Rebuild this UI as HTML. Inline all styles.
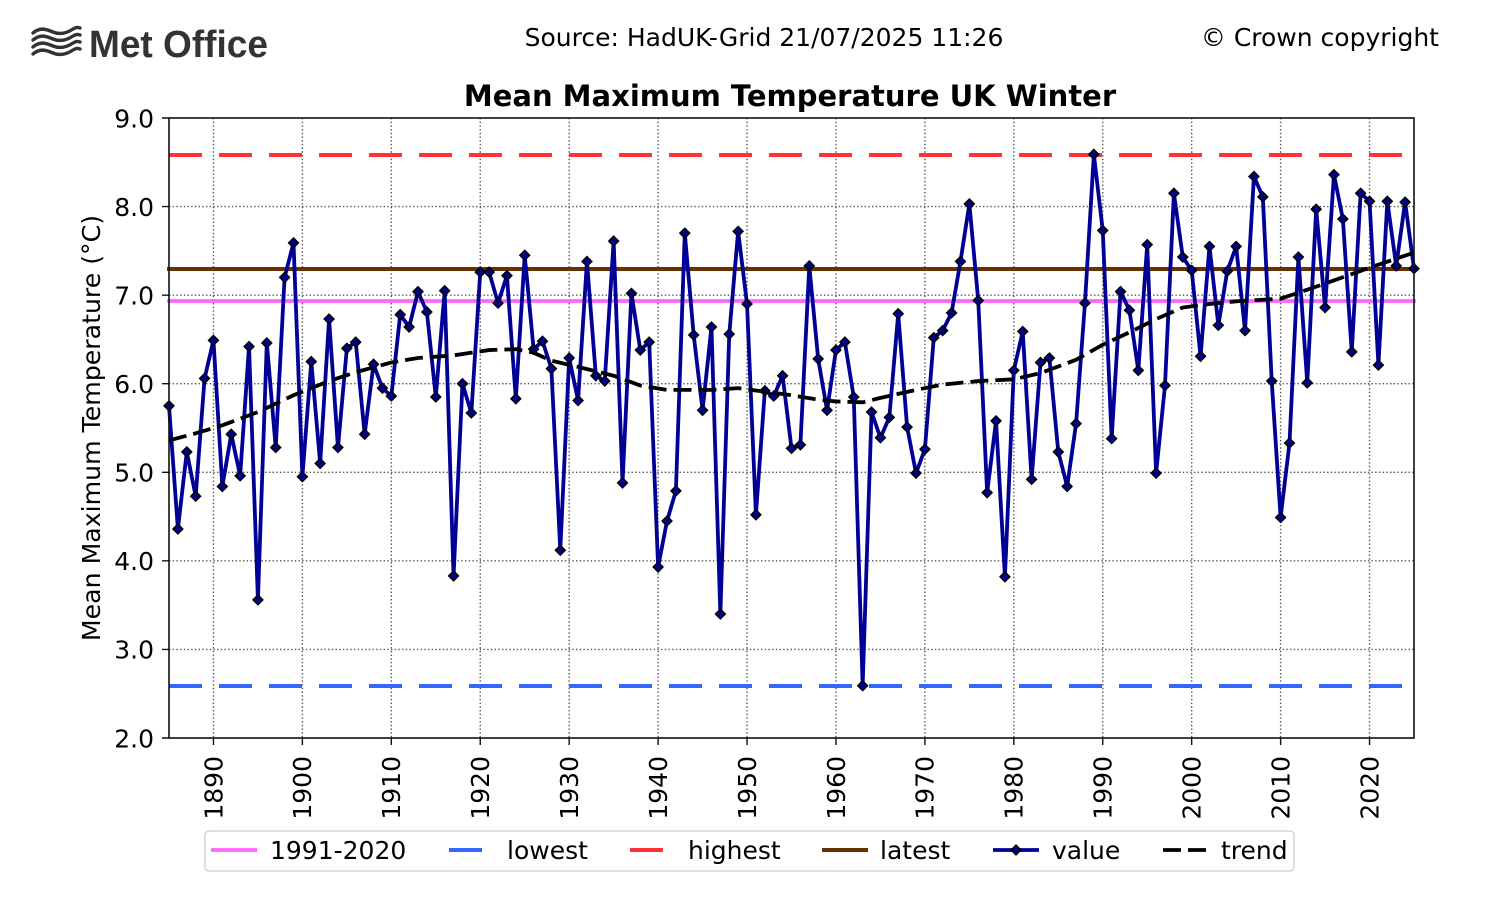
<!DOCTYPE html>
<html>
<head>
<meta charset="utf-8">
<style>
html,body{margin:0;padding:0;background:#fff;}
svg{display:block;}
</style>
</head>
<body>
<svg width="1500" height="900" viewBox="0 0 1500 900" xmlns="http://www.w3.org/2000/svg" font-family="'DejaVu Sans', 'Liberation Sans', sans-serif">
<defs>
  <path id="d" transform="scale(0.112450,-0.0112903)" d="M0,-4.8L4.8,0L0,4.8L-4.8,0Z" fill="#000096" stroke="#000" stroke-width="1.6"/>
</defs>
<rect width="1500" height="900" fill="#fff"/>

<!-- Logo -->
<g fill="none" stroke="#333" stroke-width="3.4" stroke-linecap="round">
  <path d="M33,33 C40,27 46,29 53,32 C60,35 67,33 73,29 C76,27 78,27 80,28"/>
  <path d="M33,40 C40,34 46,36 53,39 C60,42 67,40 73,36 C76,34 78,34 80,35"/>
  <path d="M33,47 C40,41 46,43 53,46 C60,49 67,47 73,43 C76,41 78,41 80,42"/>
  <path d="M33,54 C40,48 46,50 53,53 C60,56 67,54 73,50 C76,48 78,48 80,49"/>
</g>
<text x="89" y="57" font-family="'Liberation Sans', sans-serif" font-weight="bold" font-size="38" fill="#333" textLength="179" lengthAdjust="spacingAndGlyphs">Met Office</text>

<!-- Header -->
<text x="764" y="46" text-anchor="middle" font-size="25" fill="#000">Source: HadUK-Grid 21/07/2025 11:26</text>
<text x="1439" y="46" text-anchor="end" font-size="25" fill="#000">© Crown copyright</text>

<!-- Title -->
<text x="790" y="106" text-anchor="middle" font-size="29" font-weight="bold" fill="#000">Mean Maximum Temperature UK Winter</text>

<!-- Grid -->
<path fill="none" stroke="#555" stroke-width="1.4" stroke-dasharray="1.4,2.3"
 d="M213.46,118V738 M302.39,118V738 M391.32,118V738 M480.25,118V738 M569.18,118V738 M658.11,118V738 M747.04,118V738 M835.96,118V738 M924.89,118V738 M1013.82,118V738 M1102.75,118V738 M1191.68,118V738 M1280.61,118V738 M1369.54,118V738
    M169,649.43H1414 M169,560.86H1414 M169,472.29H1414 M169,383.71H1414 M169,295.14H1414 M169,206.57H1414"/>

<!-- Reference lines -->
<line x1="169" y1="301" x2="1414" y2="301" stroke="#ff66ff" stroke-width="3.7" stroke-linecap="square"/>
<line x1="169" y1="686" x2="1414" y2="686" stroke="#3366ff" stroke-width="4" stroke-dasharray="33,17"/>
<line x1="169" y1="155" x2="1414" y2="155" stroke="#ff3333" stroke-width="4" stroke-dasharray="33,17"/>
<line x1="169" y1="269" x2="1414" y2="269" stroke="#663300" stroke-width="4" stroke-linecap="square"/>

<!-- Value series (data coordinates) -->
<g transform="translate(169,915.143) scale(8.89286,-88.5714)">
<polyline fill="none" stroke="#000096" stroke-width="3.8" stroke-linejoin="round" vector-effect="non-scaling-stroke"
 points="0,5.75 1,4.36 2,5.23 3,4.73 4,6.06 5,6.49 6,4.84 7,5.43 8,4.96 9,6.42 10,3.56 11,6.46 12,5.28 13,7.2 14,7.59 15,4.95 16,6.25 17,5.1 18,6.73 19,5.28 20,6.4 21,6.47 22,5.43 23,6.22 24,5.95 25,5.86 26,6.78 27,6.64 28,7.04 29,6.81 30,5.85 31,7.05 32,3.83 33,6 34,5.67 35,7.26 36,7.26 37,6.91 38,7.22 39,5.83 40,7.45 41,6.39 42,6.48 43,6.17 44,4.12 45,6.29 46,5.81 47,7.38 48,6.09 49,6.03 50,7.61 51,4.88 52,7.02 53,6.38 54,6.47 55,3.93 56,4.45 57,4.79 58,7.7 59,6.55 60,5.7 61,6.64 62,3.4 63,6.56 64,7.72 65,6.9 66,4.52 67,5.92 68,5.86 69,6.09 70,5.27 71,5.31 72,7.33 73,6.28 74,5.7 75,6.38 76,6.47 77,5.85 78,2.59 79,5.68 80,5.39 81,5.62 82,6.79 83,5.51 84,4.99 85,5.26 86,6.52 87,6.6 88,6.8 89,7.38 90,8.03 91,6.94 92,4.77 93,5.58 94,3.82 95,6.15 96,6.59 97,4.92 98,6.24 99,6.29 100,5.23 101,4.84 102,5.55 103,6.91 104,8.59 105,7.73 106,5.38 107,7.04 108,6.83 109,6.15 110,7.57 111,4.99 112,5.98 113,8.15 114,7.43 115,7.28 116,6.31 117,7.55 118,6.66 119,7.27 120,7.55 121,6.6 122,8.34 123,8.11 124,6.03 125,4.49 126,5.33 127,7.43 128,6.01 129,7.97 130,6.86 131,8.36 132,7.86 133,6.36 134,8.15 135,8.06 136,6.21 137,8.06 138,7.33 139,8.05 140,7.3"/>
<use href="#d" x="0" y="5.75"/><use href="#d" x="1" y="4.36"/><use href="#d" x="2" y="5.23"/><use href="#d" x="3" y="4.73"/><use href="#d" x="4" y="6.06"/>
<use href="#d" x="5" y="6.49"/><use href="#d" x="6" y="4.84"/><use href="#d" x="7" y="5.43"/><use href="#d" x="8" y="4.96"/><use href="#d" x="9" y="6.42"/>
<use href="#d" x="10" y="3.56"/><use href="#d" x="11" y="6.46"/><use href="#d" x="12" y="5.28"/><use href="#d" x="13" y="7.2"/><use href="#d" x="14" y="7.59"/>
<use href="#d" x="15" y="4.95"/><use href="#d" x="16" y="6.25"/><use href="#d" x="17" y="5.1"/><use href="#d" x="18" y="6.73"/><use href="#d" x="19" y="5.28"/>
<use href="#d" x="20" y="6.4"/><use href="#d" x="21" y="6.47"/><use href="#d" x="22" y="5.43"/><use href="#d" x="23" y="6.22"/><use href="#d" x="24" y="5.95"/>
<use href="#d" x="25" y="5.86"/><use href="#d" x="26" y="6.78"/><use href="#d" x="27" y="6.64"/><use href="#d" x="28" y="7.04"/><use href="#d" x="29" y="6.81"/>
<use href="#d" x="30" y="5.85"/><use href="#d" x="31" y="7.05"/><use href="#d" x="32" y="3.83"/><use href="#d" x="33" y="6"/><use href="#d" x="34" y="5.67"/>
<use href="#d" x="35" y="7.26"/><use href="#d" x="36" y="7.26"/><use href="#d" x="37" y="6.91"/><use href="#d" x="38" y="7.22"/><use href="#d" x="39" y="5.83"/>
<use href="#d" x="40" y="7.45"/><use href="#d" x="41" y="6.39"/><use href="#d" x="42" y="6.48"/><use href="#d" x="43" y="6.17"/><use href="#d" x="44" y="4.12"/>
<use href="#d" x="45" y="6.29"/><use href="#d" x="46" y="5.81"/><use href="#d" x="47" y="7.38"/><use href="#d" x="48" y="6.09"/><use href="#d" x="49" y="6.03"/>
<use href="#d" x="50" y="7.61"/><use href="#d" x="51" y="4.88"/><use href="#d" x="52" y="7.02"/><use href="#d" x="53" y="6.38"/><use href="#d" x="54" y="6.47"/>
<use href="#d" x="55" y="3.93"/><use href="#d" x="56" y="4.45"/><use href="#d" x="57" y="4.79"/><use href="#d" x="58" y="7.7"/><use href="#d" x="59" y="6.55"/>
<use href="#d" x="60" y="5.7"/><use href="#d" x="61" y="6.64"/><use href="#d" x="62" y="3.4"/><use href="#d" x="63" y="6.56"/><use href="#d" x="64" y="7.72"/>
<use href="#d" x="65" y="6.9"/><use href="#d" x="66" y="4.52"/><use href="#d" x="67" y="5.92"/><use href="#d" x="68" y="5.86"/><use href="#d" x="69" y="6.09"/>
<use href="#d" x="70" y="5.27"/><use href="#d" x="71" y="5.31"/><use href="#d" x="72" y="7.33"/><use href="#d" x="73" y="6.28"/><use href="#d" x="74" y="5.7"/>
<use href="#d" x="75" y="6.38"/><use href="#d" x="76" y="6.47"/><use href="#d" x="77" y="5.85"/><use href="#d" x="78" y="2.59"/><use href="#d" x="79" y="5.68"/>
<use href="#d" x="80" y="5.39"/><use href="#d" x="81" y="5.62"/><use href="#d" x="82" y="6.79"/><use href="#d" x="83" y="5.51"/><use href="#d" x="84" y="4.99"/>
<use href="#d" x="85" y="5.26"/><use href="#d" x="86" y="6.52"/><use href="#d" x="87" y="6.6"/><use href="#d" x="88" y="6.8"/><use href="#d" x="89" y="7.38"/>
<use href="#d" x="90" y="8.03"/><use href="#d" x="91" y="6.94"/><use href="#d" x="92" y="4.77"/><use href="#d" x="93" y="5.58"/><use href="#d" x="94" y="3.82"/>
<use href="#d" x="95" y="6.15"/><use href="#d" x="96" y="6.59"/><use href="#d" x="97" y="4.92"/><use href="#d" x="98" y="6.24"/><use href="#d" x="99" y="6.29"/>
<use href="#d" x="100" y="5.23"/><use href="#d" x="101" y="4.84"/><use href="#d" x="102" y="5.55"/><use href="#d" x="103" y="6.91"/><use href="#d" x="104" y="8.59"/>
<use href="#d" x="105" y="7.73"/><use href="#d" x="106" y="5.38"/><use href="#d" x="107" y="7.04"/><use href="#d" x="108" y="6.83"/><use href="#d" x="109" y="6.15"/>
<use href="#d" x="110" y="7.57"/><use href="#d" x="111" y="4.99"/><use href="#d" x="112" y="5.98"/><use href="#d" x="113" y="8.15"/><use href="#d" x="114" y="7.43"/>
<use href="#d" x="115" y="7.28"/><use href="#d" x="116" y="6.31"/><use href="#d" x="117" y="7.55"/><use href="#d" x="118" y="6.66"/><use href="#d" x="119" y="7.27"/>
<use href="#d" x="120" y="7.55"/><use href="#d" x="121" y="6.6"/><use href="#d" x="122" y="8.34"/><use href="#d" x="123" y="8.11"/><use href="#d" x="124" y="6.03"/>
<use href="#d" x="125" y="4.49"/><use href="#d" x="126" y="5.33"/><use href="#d" x="127" y="7.43"/><use href="#d" x="128" y="6.01"/><use href="#d" x="129" y="7.97"/>
<use href="#d" x="130" y="6.86"/><use href="#d" x="131" y="8.36"/><use href="#d" x="132" y="7.86"/><use href="#d" x="133" y="6.36"/><use href="#d" x="134" y="8.15"/>
<use href="#d" x="135" y="8.06"/><use href="#d" x="136" y="6.21"/><use href="#d" x="137" y="8.06"/><use href="#d" x="138" y="7.33"/><use href="#d" x="139" y="8.05"/>
<use href="#d" x="140" y="7.3"/>
</g>

<!-- Trend -->
<polyline fill="none" stroke="#000" stroke-width="3.8" stroke-dasharray="18,7"
 points="169,440.40 195.68,433.31 222.36,425.34 257.93,412.06 293.50,395.23 329.07,381.06 355.75,372.20 391.32,362.46 418.00,358.03 453.57,355.37 489.14,350.06 515.82,349.17 533.61,352.71 551.39,360.69 578.07,366.89 613.64,375.74 640.32,385.49 667.00,389.91 711.46,389.91 738.14,388.14 764.82,391.69 791.50,395.23 818.18,399.66 835.96,401.43 862.64,402.31 880.43,397.89 916.00,389.91 942.68,384.60 978.25,381.06 1013.82,379.29 1040.50,373.09 1076.07,359.80 1102.75,344.74 1129.43,332.34 1156.11,319.06 1182.79,307.54 1209.47,304.00 1236.14,301.34 1280.61,298.69 1325.07,283.63 1369.54,267.69 1414,252.63"/>

<!-- Spines -->
<rect x="169" y="118" width="1245" height="620" fill="none" stroke="#111" stroke-width="1.6"/>

<!-- Ticks -->
<path fill="none" stroke="#111" stroke-width="1.4"
 d="M162,118H169 M162,206.57H169 M162,295.14H169 M162,383.71H169 M162,472.29H169 M162,560.86H169 M162,649.43H169 M162,738H169
    M213.46,738V745 M302.39,738V745 M391.32,738V745 M480.25,738V745 M569.18,738V745 M658.11,738V745 M747.04,738V745 M835.96,738V745 M924.89,738V745 M1013.82,738V745 M1102.75,738V745 M1191.68,738V745 M1280.61,738V745 M1369.54,738V745"/>

<!-- Y tick labels -->
<g font-size="25" fill="#000" text-anchor="end">
<text x="154" y="127.3">9.0</text>
<text x="154" y="215.9">8.0</text>
<text x="154" y="304.4">7.0</text>
<text x="154" y="393.0">6.0</text>
<text x="154" y="481.6">5.0</text>
<text x="154" y="570.2">4.0</text>
<text x="154" y="658.7">3.0</text>
<text x="154" y="747.3">2.0</text>
</g>

<!-- X tick labels -->
<g font-size="25" fill="#000" text-anchor="end">
<text transform="translate(222.3,756) rotate(-90)">1890</text>
<text transform="translate(311.2,756) rotate(-90)">1900</text>
<text transform="translate(400.1,756) rotate(-90)">1910</text>
<text transform="translate(489.1,756) rotate(-90)">1920</text>
<text transform="translate(578.0,756) rotate(-90)">1930</text>
<text transform="translate(666.9,756) rotate(-90)">1940</text>
<text transform="translate(755.8,756) rotate(-90)">1950</text>
<text transform="translate(844.8,756) rotate(-90)">1960</text>
<text transform="translate(933.7,756) rotate(-90)">1970</text>
<text transform="translate(1022.6,756) rotate(-90)">1980</text>
<text transform="translate(1111.6,756) rotate(-90)">1990</text>
<text transform="translate(1200.5,756) rotate(-90)">2000</text>
<text transform="translate(1289.4,756) rotate(-90)">2010</text>
<text transform="translate(1378.3,756) rotate(-90)">2020</text>
</g>

<!-- Y axis label -->
<text transform="translate(100,428) rotate(-90)" text-anchor="middle" font-size="25.2" fill="#000">Mean Maximum Temperature (°C)</text>

<!-- Legend -->
<rect x="205" y="831" width="1089" height="40" rx="4" ry="4" fill="#fff" stroke="#cccccc" stroke-width="1.3"/>
<line x1="211" y1="850" x2="257" y2="850" stroke="#ff66ff" stroke-width="3.7"/>
<line x1="449" y1="850" x2="495" y2="850" stroke="#3366ff" stroke-width="4" stroke-dasharray="33,17"/>
<line x1="630" y1="850" x2="676" y2="850" stroke="#ff3333" stroke-width="4" stroke-dasharray="33,17"/>
<line x1="822" y1="850" x2="868" y2="850" stroke="#663300" stroke-width="4"/>
<line x1="993" y1="850" x2="1039" y2="850" stroke="#000096" stroke-width="3.8"/>
<path d="M1016,845.2L1020.8,850L1016,854.8L1011.2,850Z" fill="#000096" stroke="#000" stroke-width="1.6"/>
<line x1="1163" y1="850" x2="1209" y2="850" stroke="#000" stroke-width="3.8" stroke-dasharray="18,7"/>
<g font-size="25" fill="#000">
<text x="270" y="859">1991-2020</text>
<text x="507" y="859">lowest</text>
<text x="688" y="859">highest</text>
<text x="880" y="859">latest</text>
<text x="1052" y="859">value</text>
<text x="1221" y="859">trend</text>
</g>
</svg>
</body>
</html>
